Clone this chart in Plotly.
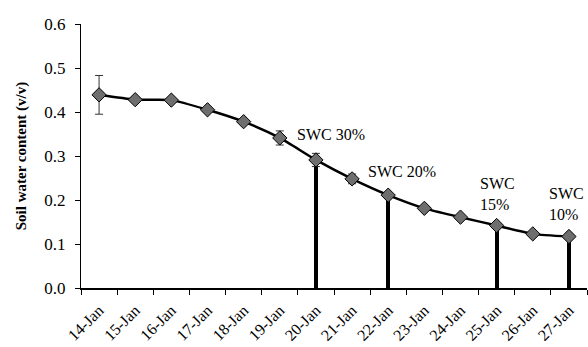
import plotly.graph_objects as go

dates = ["14-Jan", "15-Jan", "16-Jan", "17-Jan", "18-Jan", "19-Jan", "20-Jan",
         "21-Jan", "22-Jan", "23-Jan", "24-Jan", "25-Jan", "26-Jan", "27-Jan"]
swc = [0.439, 0.428, 0.427, 0.405, 0.378, 0.341, 0.291,
       0.248, 0.211, 0.181, 0.161, 0.142, 0.123, 0.117]
swc_err = [0.044, 0, 0, 0, 0, 0.016, 0.015, 0.011, 0, 0, 0, 0, 0, 0]

stop_dates = ["20-Jan", "22-Jan", "25-Jan", "27-Jan"]
stop_values = [0.291, 0.211, 0.142, 0.117]
stop_labels = ["SWC 30%", "SWC 20%", "SWC<br>15%", "SWC<br>10%"]
label_x = [6.42, 8.37, 11.02, 12.92]
label_y = [0.348, 0.264, 0.214, 0.19]

font_family = "Liberation Serif"

fig = go.Figure()
fig.add_trace(go.Bar(x=stop_dates, y=stop_values, width=0.11,
                     marker=dict(color="black", line=dict(width=0)),
                     showlegend=False))
fig.add_trace(go.Scatter(
    x=dates, y=swc, mode="lines+markers",
    line=dict(color="black", width=2.5, shape="spline", smoothing=0.6),
    marker=dict(symbol="diamond", size=11, color="#6e6e6e",
                line=dict(color="black", width=1)),
    error_y=dict(type="data", array=swc_err, visible=True,
                 color="#333333", thickness=1, width=4),
    showlegend=False))

for t, xx, yy in zip(stop_labels, label_x, label_y):
    fig.add_annotation(x=xx, y=yy, text=t, showarrow=False,
                       font=dict(family=font_family, size=16, color="black"),
                       align="left")

fig.update_layout(
    width=588, height=347,
    margin=dict(l=81, r=1, t=24, b=59),
    plot_bgcolor="white", paper_bgcolor="white",
    font=dict(family=font_family, size=16, color="black"),
    bargap=0,
)
fig.update_xaxes(
    type="category", categoryorder="array", categoryarray=dates,
    range=[-0.5, 13.5], tickson="boundaries", automargin=False,
    ticks="outside", ticklen=5, tickcolor="black",
    showline=True, linecolor="black", linewidth=1.5,
    showgrid=False, tickangle=-45, tickfont=dict(size=16),
    ticklabelstandoff=5,
)
fig.update_yaxes(
    range=[0, 0.6], dtick=0.1, tickformat=".1f", automargin=False,
    ticks="outside", ticklen=5, tickcolor="black",
    showline=True, linecolor="black", linewidth=1,
    showgrid=False, zeroline=False, tickfont=dict(size=17),
    ticklabelstandoff=6,
    title=dict(text="<b>Soil water content (v/v)</b>", font=dict(size=15), standoff=14),
)
fig.write_html("out.html", config={"displayModeBar": False},
               post_script="document.body.style.margin='0px';")
